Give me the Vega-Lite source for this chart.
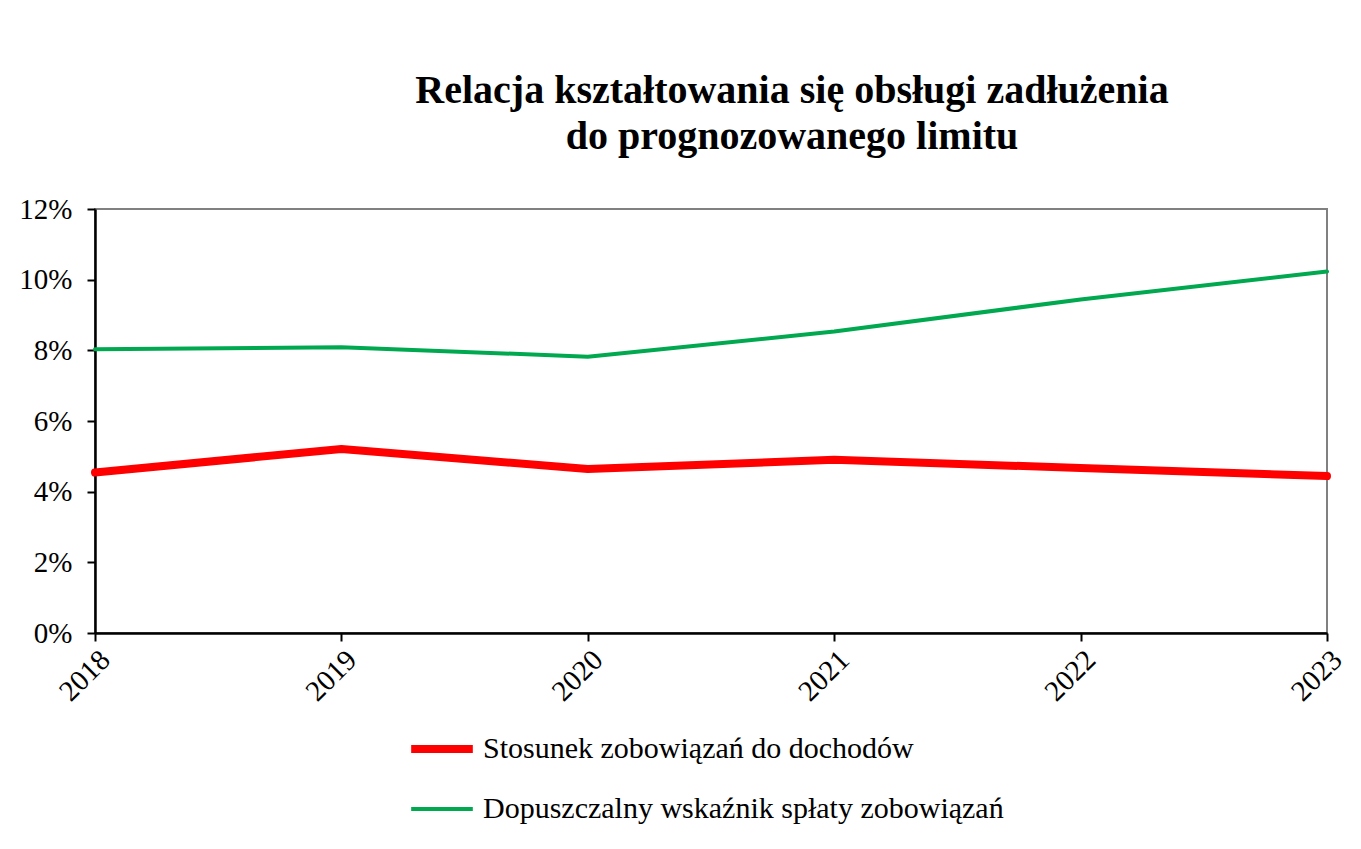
{
  "$schema": "https://vega.github.io/schema/vega-lite/v6.json",
  "width": 1232,
  "height": 424,
  "autosize": {"type": "none"},
  "padding": {"left": 95, "top": 209, "right": 34, "bottom": 216},
  "background": "white",
  "title": {
    "text": ["Relacja kształtowania się obsługi zadłużenia", "do prognozowanego limitu"],
    "font": "Liberation Serif",
    "fontSize": 40,
    "fontWeight": "bold",
    "color": "black",
    "anchor": "middle",
    "dx": 81,
    "offset": 38,
    "lineHeight": 46
  },
  "data": {
    "values": [
      {"rok": "2018", "seria": "Stosunek zobowiązań do dochodów", "wartosc": 0.0454},
      {"rok": "2019", "seria": "Stosunek zobowiązań do dochodów", "wartosc": 0.0521},
      {"rok": "2020", "seria": "Stosunek zobowiązań do dochodów", "wartosc": 0.0464},
      {"rok": "2021", "seria": "Stosunek zobowiązań do dochodów", "wartosc": 0.0490},
      {"rok": "2022", "seria": "Stosunek zobowiązań do dochodów", "wartosc": 0.0467},
      {"rok": "2023", "seria": "Stosunek zobowiązań do dochodów", "wartosc": 0.0444},
      {"rok": "2018", "seria": "Dopuszczalny wskaźnik spłaty zobowiązań", "wartosc": 0.0803},
      {"rok": "2019", "seria": "Dopuszczalny wskaźnik spłaty zobowiązań", "wartosc": 0.0809},
      {"rok": "2020", "seria": "Dopuszczalny wskaźnik spłaty zobowiązań", "wartosc": 0.0782},
      {"rok": "2021", "seria": "Dopuszczalny wskaźnik spłaty zobowiązań", "wartosc": 0.0853},
      {"rok": "2022", "seria": "Dopuszczalny wskaźnik spłaty zobowiązań", "wartosc": 0.0944},
      {"rok": "2023", "seria": "Dopuszczalny wskaźnik spłaty zobowiązań", "wartosc": 0.1023}
    ]
  },
  "mark": {"type": "line", "strokeCap": "round", "strokeJoin": "round"},
  "encoding": {
    "x": {
      "field": "rok",
      "type": "ordinal",
      "scale": {"type": "point", "padding": 0},
      "axis": {
        "title": null,
        "labelAngle": -45,
        "labelFont": "Liberation Serif",
        "labelFontSize": 29,
        "labelColor": "black",
        "labelPadding": 4,
        "tickSize": 8,
        "tickColor": "black",
        "tickWidth": 2,
        "domainColor": "black",
        "domainWidth": 2.5,
        "grid": false
      }
    },
    "y": {
      "field": "wartosc",
      "type": "quantitative",
      "scale": {"domain": [0, 0.12], "nice": false},
      "axis": {
        "title": null,
        "values": [0, 0.02, 0.04, 0.06, 0.08, 0.1, 0.12],
        "format": ".0%",
        "labelFont": "Liberation Serif",
        "labelFontSize": 29,
        "labelColor": "black",
        "labelPadding": 15,
        "tickSize": 8,
        "tickColor": "black",
        "tickWidth": 2,
        "domainColor": "black",
        "domainWidth": 2.5,
        "grid": false
      }
    },
    "color": {
      "field": "seria",
      "type": "nominal",
      "scale": {
        "domain": ["Stosunek zobowiązań do dochodów", "Dopuszczalny wskaźnik spłaty zobowiązań"],
        "range": ["#FF0000", "#00A84F"]
      },
      "legend": {
        "title": null,
        "orient": "none",
        "legendX": 312,
        "legendY": 505,
        "symbolType": "stroke",
        "symbolSize": 3800,
        "labelFont": "Liberation Serif",
        "labelFontSize": 30,
        "labelLimit": 0,
        "labelColor": "black",
        "labelOffset": 6,
        "rowPadding": 11
      }
    },
    "strokeWidth": {
      "field": "seria",
      "type": "nominal",
      "scale": {
        "domain": ["Stosunek zobowiązań do dochodów", "Dopuszczalny wskaźnik spłaty zobowiązań"],
        "range": [8, 4]
      },
      "legend": {
        "title": null,
        "orient": "none",
        "legendX": 312,
        "legendY": 505,
        "symbolType": "stroke",
        "symbolSize": 3800,
        "labelFont": "Liberation Serif",
        "labelFontSize": 30,
        "labelLimit": 0,
        "labelColor": "black",
        "labelOffset": 6,
        "rowPadding": 11
      }
    }
  },
  "config": {
    "view": {"stroke": "#808080", "strokeWidth": 2}
  }
}
